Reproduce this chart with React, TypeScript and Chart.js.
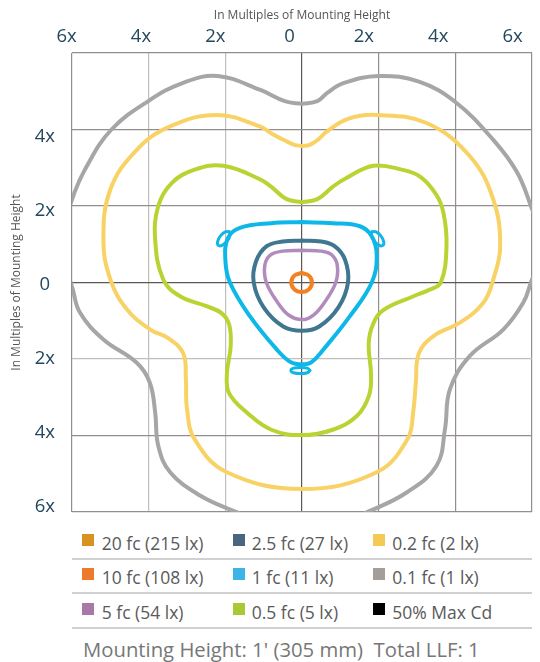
import React, { useEffect, useRef } from 'react';
import { Chart, registerables } from 'chart.js';

Chart.register(...registerables);

// ---- axis ticks ----
const xTickValues = [-6, -4, -2, 0, 2, 4, 6];
const xTickLabels = ['6x', '4x', '2x', '0', '2x', '4x', '6x'];
const yTickValues = [-6, -4, -2, 0, 2, 4];
const yTickLabels = ['6x', '4x', '2x', '0', '2x', '4x'];
const gridValues = [-6, -4, -2, 0, 2, 4, 6];
const axisTitle = 'In Multiples of Mounting Height';

// ---- isofootcandle contours (x, y in multiples of mounting height) ----
const contour01fc = [
  [0, 4.67], [0.4, 4.74], [0.65, 4.95], [1.08, 5.21], [2.0, 5.4], [3.05, 5.25], [4.0, 4.72], [4.99, 3.73], [5.6, 2.9],
  [5.97, 2.0], [6.3, 1.0], [5.97, 0.0], [5.77, -0.53], [5.25, -1.23], [4.38, -1.92], [3.86, -2.79],
  [3.73, -3.83], [3.51, -4.79], [2.73, -5.49], [1.77, -5.97], [0.9, -6.3], [0, -6.4], [-0.9, -6.3],
  [-1.79, -5.97], [-2.66, -5.57], [-3.44, -4.96], [-3.75, -4.27], [-3.83, -3.4], [-3.97, -2.62],
  [-4.31, -2.1], [-5.18, -1.49], [-5.79, -0.79], [-5.98, -0.18], [-6.3, 1.0], [-6.0, 2.17],
  [-5.62, 3.03], [-4.97, 4.0], [-4.0, 4.75], [-3.1, 5.22], [-2.2, 5.4], [-1.1, 5.04], [-0.45, 4.74], [0, 4.67],
];
const contour02fc = [
  [0, 3.57], [0.2, 3.6], [0.4, 3.72], [0.65, 3.95], [1.2, 4.28], [1.95, 4.38], [3.25, 4.17], [4.38, 3.3], [4.99, 2.17],
  [5.17, 0.95], [4.99, 0.08], [4.73, -0.53], [4.12, -1.05], [3.43, -1.4], [3.05, -1.85], [2.97, -2.6],
  [2.9, -3.4], [2.75, -4.1], [1.95, -4.96], [0, -5.4], [-1.96, -4.96], [-2.8, -4.1], [-3.0, -3.3],
  [-3.03, -2.5], [-3.1, -1.85], [-3.5, -1.45], [-3.96, -1.23], [-4.57, -0.7], [-5.0, 0.08], [-5.18, 1.12],
  [-5.0, 2.43], [-4.31, 3.47], [-3.44, 4.08], [-2.23, 4.38], [-1.1, 4.08], [-0.74, 3.86], [-0.4, 3.69],
  [-0.2, 3.6], [0, 3.57],
];
const contour05fc = [
  [0, 2.1], [0.4, 2.18], [0.8, 2.5], [1.1, 2.7], [1.86, 3.05], [2.6, 2.95], [3.08, 2.77], [3.5, 2.3], [3.69, 1.82],
  [3.77, 0.95], [3.62, 0.0], [3.3, -0.2], [2.91, -0.36], [2.12, -0.72], [1.85, -1.1], [1.74, -1.6],
  [1.8, -2.4], [1.75, -2.95], [1.43, -3.49], [0.8, -3.85], [0, -3.99], [-0.8, -3.85], [-1.44, -3.4],
  [-1.9, -2.9], [-1.96, -2.4], [-1.86, -1.66], [-1.9, -1.1], [-2.1, -0.8], [-2.49, -0.62], [-3.18, -0.36],
  [-3.62, 0.08], [-3.83, 1.12], [-3.75, 2.0], [-3.4, 2.6], [-2.8, 2.95], [-2.05, 3.05], [-1.1, 2.7],
  [-0.8, 2.5], [-0.4, 2.18], [0, 2.1],
];
const contour1fc = [
  [0, 1.58], [0.8, 1.55], [1.51, 1.47], [1.82, 1.21], [1.95, 0.7], [1.82, 0.0], [1.25, -0.88], [0.56, -1.75],
  [0.25, -2.08], [0, -2.14], [-0.3, -2.08], [-0.66, -1.75], [-1.36, -0.88], [-1.88, 0.0], [-2.0, 0.6],
  [-1.93, 1.17], [-1.62, 1.43], [-0.8, 1.55], [0, 1.58],
];
const contour1fcLoopLeft = [
  [-1.9, 1.33], [-2.003, 1.324], [-2.127, 1.217], [-2.201, 1.07], [-2.18, 0.97], [-2.077, 0.976],
  [-1.953, 1.083], [-1.879, 1.23], [-1.9, 1.33],
];
const contour1fcLoopRight = [
  [1.83, 1.33], [1.933, 1.324], [2.057, 1.217], [2.131, 1.07], [2.11, 0.97], [2.007, 0.976],
  [1.883, 1.083], [1.809, 1.23], [1.83, 1.33],
];
const contour1fcLoopBottom = [
  [0.21, -2.3], [0.14, -2.24], [-0.04, -2.22], [-0.22, -2.24], [-0.29, -2.3], [-0.22, -2.36],
  [-0.04, -2.38], [0.14, -2.36], [0.21, -2.3],
];
const contour25fc = [
  [0, 1.1], [0.5, 1.07], [0.85, 0.95], [1.12, 0.6], [1.2, 0.0], [0.95, -0.65], [0.45, -1.15], [0, -1.26],
  [-0.49, -1.15], [-1.0, -0.65], [-1.26, 0.0], [-1.2, 0.55], [-0.92, 0.95], [-0.5, 1.07], [0, 1.1],
];
const contour5fc = [
  [0, 0.84], [0.5, 0.82], [0.78, 0.72], [0.92, 0.45], [0.88, 0.0], [0.6, -0.5], [0.3, -0.85], [0, -0.97],
  [-0.35, -0.85], [-0.65, -0.5], [-0.93, 0.0], [-0.97, 0.45], [-0.82, 0.72], [-0.5, 0.82], [0, 0.84],
];
const contour10fc = [
  [-0.01, 0.25], [0.18, 0.18], [0.26, 0], [0.18, -0.18], [-0.01, -0.25], [-0.2, -0.18], [-0.28, 0],
  [-0.2, 0.18], [-0.01, 0.25],
];

// ---- legend ----
const legendLabels = [
  '20 fc (215 lx)', '2.5 fc (27 lx)', '0.2 fc (2 lx)',
  '10 fc (108 lx)', '1 fc (11 lx)', '0.1 fc (1 lx)',
  '5 fc (54 lx)', '0.5 fc (5 lx)', '50% Max Cd',
];
const legendColors = [
  '#d9921f', '#4a6580', '#f5c956',
  '#ee7a2c', '#3ab5e6', '#a39e9a',
  '#a878a8', '#a9c833', '#000000',
];
const footerText = "Mounting Height: 1' (305 mm)  Total LLF: 1";

const COLORS = {
  gray: '#a6a6a6',
  yellow: '#f8d264',
  green: '#b8d433',
  blue: '#0db8e8',
  teal: '#3f7791',
  purple: '#b28bbd',
  orange: '#f28123',
};

const series = [
  { label: '0.1 fc', pts: contour01fc, color: COLORS.gray, w: 4 },
  { label: '0.2 fc', pts: contour02fc, color: COLORS.yellow, w: 4 },
  { label: '0.5 fc', pts: contour05fc, color: COLORS.green, w: 4 },
  { label: '1 fc', pts: contour1fc, color: COLORS.blue, w: 4 },
  { label: '1 fc a', pts: contour1fcLoopLeft, color: COLORS.blue, w: 3 },
  { label: '1 fc b', pts: contour1fcLoopRight, color: COLORS.blue, w: 3 },
  { label: '1 fc c', pts: contour1fcLoopBottom, color: COLORS.blue, w: 3 },
  { label: '2.5 fc', pts: contour25fc, color: COLORS.teal, w: 4 },
  { label: '5 fc', pts: contour5fc, color: COLORS.purple, w: 3.5 },
  { label: '10 fc', pts: contour10fc, color: COLORS.orange, w: 4 },
];

const TICK_COLOR = '#24485e';
const TITLE_COLOR = '#555555';
const FONT = '"Open Sans", "DejaVu Sans", sans-serif';

function gridColor(v: number, light: number[]) {
  if (v === 0) return '#5c5856';
  if (light.includes(v)) return '#c2bebc';
  return '#938e8c';
}

export default function App() {
  const ref = useRef<HTMLCanvasElement | null>(null);

  useEffect(() => {
    if (!ref.current) return;
    const chart = new Chart(ref.current, {
      type: 'scatter',
      data: {
        datasets: series.map((s) => ({
          label: s.label,
          data: s.pts.map(([x, y]) => ({ x, y })),
          borderColor: s.color,
          backgroundColor: s.color,
          borderWidth: s.w,
          showLine: true,
          tension: 0.4,
          pointRadius: 0,
          fill: false,
          xAxisID: 'x',
          yAxisID: 'y',
        })),
      },
      options: {
        animation: false,
        responsive: false,
        layout: { padding: { left: 0, top: 0, right: 8, bottom: 8 } },
        plugins: { legend: { display: false }, tooltip: { enabled: false } },
        elements: { point: { radius: 0 }, line: { capBezierPoints: false, borderCapStyle: 'round', borderJoinStyle: 'round' } },
        scales: {
          x: {
            type: 'linear',
            axis: 'x',
            position: 'top',
            min: -6,
            max: 6,
            afterBuildTicks: (s: any) => { s.ticks = gridValues.map((v) => ({ value: v })); },
            grid: { color: (c: any) => gridColor(c.tick.value, [-4, -2]), lineWidth: 1.2, drawTicks: false },
            border: { display: false },
            ticks: { display: false },
            afterFit: (s: any) => { s.height = 0; s.paddingLeft = 0; s.paddingRight = 0; },
          },
          xt: {
            type: 'linear',
            axis: 'x',
            position: 'top',
            min: -5.856,
            max: 6.523,
            afterBuildTicks: (s: any) => { s.ticks = xTickValues.map((v) => ({ value: v })); },
            grid: { display: false, drawTicks: false },
            border: { display: false },
            ticks: {
              autoSkip: false,
              maxRotation: 0,
              padding: 5,
              color: TICK_COLOR,
              font: { family: FONT, size: 18.5 },
              callback: (_v: any, i: number) => xTickLabels[i],
            },
            title: {
              display: true,
              text: axisTitle,
              color: TITLE_COLOR,
              font: { family: FONT, size: 12 },
              padding: { top: 8, bottom: 0 },
            },
            afterFit: (s: any) => { s.height = 53; s.paddingLeft = 0; s.paddingRight = 0; },
          },
          y: {
            type: 'linear',
            axis: 'y',
            position: 'left',
            min: -6,
            max: 6,
            afterBuildTicks: (s: any) => { s.ticks = gridValues.map((v) => ({ value: v })); },
            grid: { color: (c: any) => gridColor(c.tick.value, [-2]), lineWidth: 1.2, drawTicks: false },
            border: { display: false },
            ticks: { display: false },
            afterFit: (s: any) => { s.width = 0; s.paddingTop = 0; s.paddingBottom = 0; },
          },
          yt: {
            type: 'linear',
            axis: 'y',
            position: 'left',
            min: -6.142,
            max: 6.267,
            afterBuildTicks: (s: any) => { s.ticks = yTickValues.map((v) => ({ value: v })); },
            grid: { display: false, drawTicks: false },
            border: { display: false },
            ticks: {
              autoSkip: false,
              padding: 17,
              crossAlign: 'center',
              color: TICK_COLOR,
              font: { family: FONT, size: 18.5 },
              callback: (_v: any, i: number) => yTickLabels[i],
            },
            title: {
              display: true,
              text: axisTitle,
              color: TITLE_COLOR,
              font: { family: FONT, size: 12 },
              padding: { top: 9, bottom: 0 },
            },
            afterFit: (s: any) => { s.width = 72; s.paddingTop = 0; s.paddingBottom = 0; },
          },
        },
      } as any,
    });
    return () => chart.destroy();
  }, []);

  const colX = [82, 232.7, 373.3];
  const textX = [101.7, 251.7, 392.3];
  const rowCenter = [543.7, 577.8, 612.2];
  const sepY = [559, 593, 627.5];

  return (
    <div style={{ position: 'fixed', left: 0, top: 0, width: 540, height: 662, background: '#fff', fontFamily: FONT, overflow: 'hidden' }}>
      <canvas ref={ref} width={540} height={520} style={{ position: 'absolute', left: 0, top: 0, width: 540, height: 520 }} />
      {legendLabels.map((lab, i) => {
        const r = Math.floor(i / 3);
        const c = i % 3;
        return (
          <React.Fragment key={lab}>
            <div style={{ position: 'absolute', left: colX[c], top: rowCenter[r] - 9.5, width: 12, height: 12, background: legendColors[i] }} />
            <div style={{ position: 'absolute', left: textX[c], top: rowCenter[r] - 10.5, fontSize: 17.5, lineHeight: '20px', color: '#5a5a5a', whiteSpace: 'pre' }}>{lab}</div>
          </React.Fragment>
        );
      })}
      {sepY.map((y) => (
        <div key={y} style={{ position: 'absolute', left: 72, top: y - 1, width: 460, height: 2, background: '#d0d0d0' }} />
      ))}
      <div style={{ position: 'absolute', left: 83, top: 637, fontSize: 20.3, lineHeight: '24px', color: '#777', whiteSpace: 'pre' }}>{footerText}</div>
    </div>
  );
}
